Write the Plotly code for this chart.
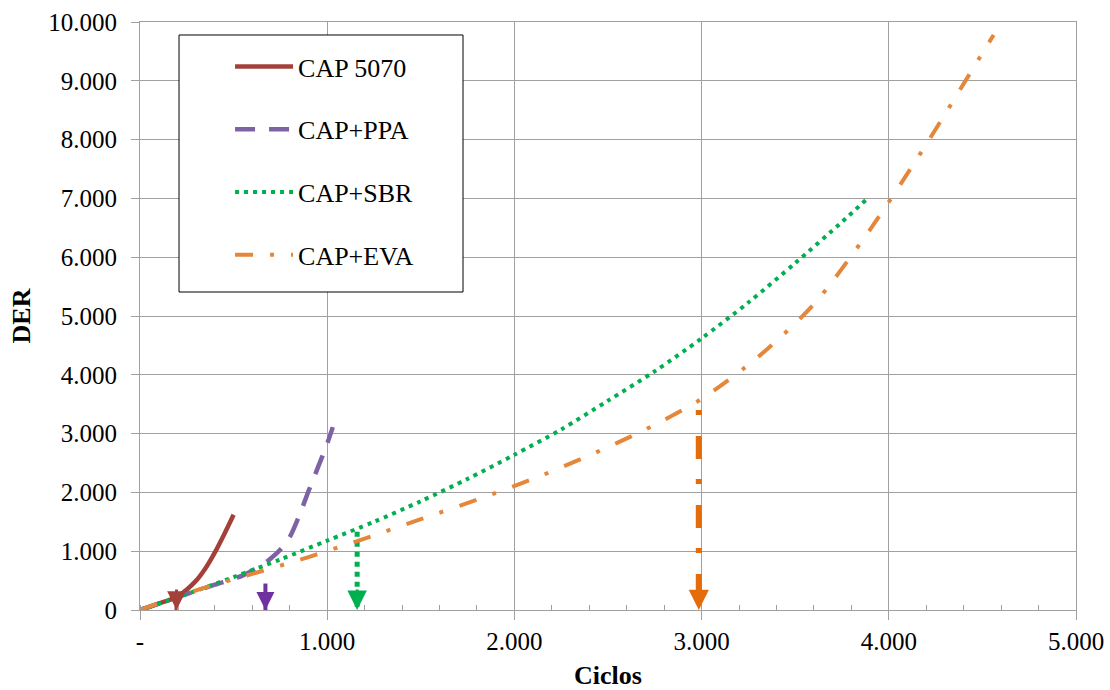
import plotly.graph_objects as go

# ---- data ----
cap5070_x = [0, 100, 200, 300, 350, 400, 450, 500]
cap5070_y = [0, 110, 230, 500, 710, 980, 1290, 1620]

ppa_x = [0, 200, 400, 550, 650, 700, 750, 800, 850, 900, 950, 1000, 1030]
ppa_y = [0, 220, 430, 590, 760, 880, 1030, 1240, 1600, 2020, 2420, 2830, 3110]

sbr_x = [0, 250, 500, 750, 1000, 1250, 1500, 1750, 2000, 2250, 2500, 2750, 3000, 3250, 3500, 3750, 3880]
sbr_y = [0, 270, 560, 860, 1180, 1500, 1850, 2230, 2640, 3070, 3560, 4060, 4620, 5230, 5900, 6600, 6980]

eva_x = [0, 300, 600, 900, 1200, 1500, 1800, 2100, 2400, 2700, 3000, 3300, 3600, 3900, 4200, 4500, 4560]
eva_y = [0, 335, 615, 900, 1215, 1545, 1875, 2230, 2630, 3070, 3590, 4300, 5200, 6470, 7920, 9470, 9780]

series_names = ["CAP 5070", "CAP+PPA", "CAP+SBR", "CAP+EVA"]

# vertical marker arrows (cycle position, starting DER)
arrow_x = [195, 670, 1160, 2985]
arrow_top = [230, 450, 1330, 3400]

x_tickvals = [0, 1000, 2000, 3000, 4000, 5000]
x_ticktext = ["-", "1.000", "2.000", "3.000", "4.000", "5.000"]
y_tickvals = [0, 1000, 2000, 3000, 4000, 5000, 6000, 7000, 8000, 9000, 10000]
y_ticktext = ["0", "1.000", "2.000", "3.000", "4.000", "5.000", "6.000",
              "7.000", "8.000", "9.000", "10.000"]

# ---- styles ----
FONT = "Liberation Serif"
colors = ["#A3403A", "#7D62A6", "#00B050", "#E4873A"]
arrow_colors = ["#A3403A", "#7030A0", "#00B050", "#E46C0A"]
dashes = ["solid", "20px,14px", "4px,5px", "18px,17px,4px,17px"]
arrow_dashes = ["solid", "solid", "5px,5px", "5px,21px,23px,20px"]
arrow_widths = [4, 4, 5, 6]

fig = go.Figure()

# arrow shafts (drawn under the curves)
for i in range(4):
    fig.add_trace(go.Scatter(
        x=[arrow_x[i], arrow_x[i]], y=[arrow_top[i], 0],
        mode="lines", showlegend=False, hoverinfo="skip",
        line=dict(color=arrow_colors[i], width=arrow_widths[i], dash=arrow_dashes[i]),
    ))

data = [(cap5070_x, cap5070_y), (ppa_x, ppa_y), (sbr_x, sbr_y), (eva_x, eva_y)]
widths = [4.5, 4.5, 4, 4]
for i, (xs, ys) in enumerate(data):
    fig.add_trace(go.Scatter(
        x=xs, y=ys, name=series_names[i], mode="lines",
        legendgroup=series_names[i],
        line=dict(color=colors[i], width=widths[i], dash=dashes[i], shape="spline", smoothing=0.8),
    ))

# arrow heads
head_sizes = [1.25, 1.2, 1.3, 1.35]
for i in range(4):
    fig.add_annotation(
        x=arrow_x[i], y=0, xref="x", yref="y", text="",
        showarrow=True, ax=0, ay=-22, arrowhead=2,
        arrowwidth=3, arrowsize=head_sizes[i], arrowcolor=arrow_colors[i], standoff=0,
    )

# legend frame (white box with black border, sits over the gridlines)
fig.add_shape(
    type="rect", xref="paper", yref="paper",
    x0=0.0417, x1=0.3451, y0=0.5408, y1=0.9779,
    line=dict(color="black", width=1), fillcolor="white", layer="above",
)

grid_color = "#A0A0A0"
fig.update_layout(
    width=1110, height=690,
    margin=dict(l=140, r=34, t=22, b=80),
    plot_bgcolor="white", paper_bgcolor="white",
    font=dict(family=FONT, color="black"),
    showlegend=True,
    legend=dict(
        x=0.0962, y=0.9643, xanchor="left", yanchor="top",
        bgcolor="rgba(0,0,0,0)", borderwidth=0,
        font=dict(family=FONT, size=26, color="black"),
        tracegroupgap=26, itemwidth=58,
    ),
    xaxis=dict(
        range=[0, 5000], tickvals=x_tickvals, ticktext=x_ticktext,
        automargin=False,
        showgrid=True, gridcolor=grid_color, gridwidth=1,
        showline=True, linecolor=grid_color, linewidth=1, mirror=True,
        ticks="outside", ticklen=9, tickcolor=grid_color,
        minor=dict(dtick=200, ticks="inside", ticklen=5, tickcolor=grid_color, showgrid=False),
        tickfont=dict(family=FONT, size=25, color="black"),
        title=dict(text="<b>Ciclos</b>", font=dict(family=FONT, size=26, color="black"), standoff=12),
        zeroline=False,
    ),
    yaxis=dict(
        range=[0, 10000], tickvals=y_tickvals, ticktext=y_ticktext,
        automargin=False,
        showgrid=True, gridcolor=grid_color, gridwidth=1,
        showline=True, linecolor=grid_color, linewidth=1, mirror=True,
        ticks="outside", ticklen=8, tickcolor=grid_color,
        ticklabelstandoff=9,
        tickfont=dict(family=FONT, size=25, color="black"),
        title=dict(text="<b>DER</b>", font=dict(family=FONT, size=26, color="black"), standoff=10),
        zeroline=False,
    ),
)

# remove the default 8px page margin so the 1110x690 figure fills the window exactly
fig.write_html("out.html", config={"displayModeBar": False},
               post_script="document.body.style.margin='0';")
